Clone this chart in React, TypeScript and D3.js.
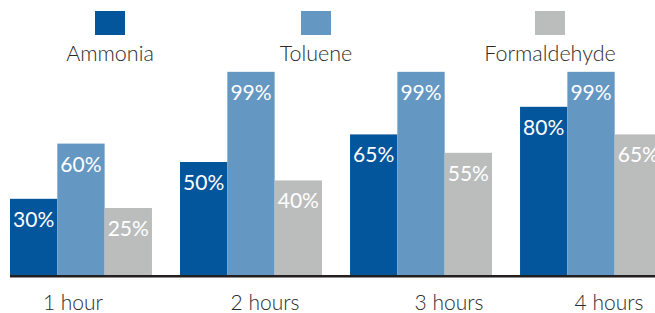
import React from 'react'
import * as d3 from 'd3'

// chart values
const categories = ['1 hour', '2 hours', '3 hours', '4 hours']
const seriesNames = ['Ammonia', 'Toluene', 'Formaldehyde']
const ammonia = [30, 50, 65, 80]
const toluene = [60, 99, 99, 99]
const formaldehyde = [25, 40, 55, 65]
const seriesColors = ['#04569c', '#6597c3', '#bbbdbd']

// layout
const W = 655
const H = 313
const baseY = 275
const legendX = [110, 316, 550]
const labelShift = [-8, 14, 28, 18]
const font = 'Lato, "Open Sans", sans-serif'

const App = () => {
    const seriesValues = [ammonia, toluene, formaldehyde]

    const x0 = d3.scaleBand<string>()
        .domain(categories)
        .range([10, 662])
        .paddingInner(0.165)
        .paddingOuter(0)
    const x1 = d3.scaleBand<string>()
        .domain(seriesNames)
        .range([0, x0.bandwidth()])
        .padding(0)
    const y = d3.scaleLinear()
        .domain([-11.4, 100])
        .range([baseY, 70])

    const bars = categories.flatMap((cat, ci) =>
        seriesNames.map((s, si) => ({
            cat, s, si,
            value: seriesValues[si][ci],
            x: (x0(cat) ?? 0) + (x1(s) ?? 0),
        }))
    )

    return (
        <div style={{ position: 'absolute', left: 0, top: 0 }}>
            <svg width={W} height={H} style={{ display: 'block', background: '#fff' }}>
                {/* legend */}
                {seriesNames.map((s, i) => (
                    <g key={s} transform={`translate(${legendX[i]},0)`}>
                        <rect x={-15} y={11} width={30} height={24} fill={seriesColors[i]} />
                        <text y={61} textAnchor="middle" fontFamily={font} fontWeight={300}
                            fontSize={21.5} fill="#2b2b2b">{s}</text>
                    </g>
                ))}

                {/* bars */}
                {bars.map(d => (
                    <rect key={d.cat + d.s} x={d.x} y={y(d.value)} width={x1.bandwidth()}
                        height={baseY - y(d.value)} fill={seriesColors[d.si]} />
                ))}

                {/* value labels */}
                {bars.map(d => (
                    <text key={'t' + d.cat + d.s} x={d.x + x1.bandwidth() / 2} y={y(d.value) + 28}
                        textAnchor="middle" fontFamily={font} fontWeight={400} fontSize={21}
                        fill="#ffffff">{d.value}%</text>
                ))}

                {/* axis line */}
                <line x1={10} x2={W} y1={276.3} y2={276.3} stroke="#231f20" strokeWidth={2.6} />

                {/* category labels */}
                {categories.map((c, i) => (
                    <text key={c} x={(x0(c) ?? 0) + x0.bandwidth() / 2 + labelShift[i]} y={310}
                        textAnchor="middle" fontFamily={font} fontWeight={300} fontSize={21}
                        fill="#2b2b2b">{c}</text>
                ))}
            </svg>
        </div>
    )
}

export default App
